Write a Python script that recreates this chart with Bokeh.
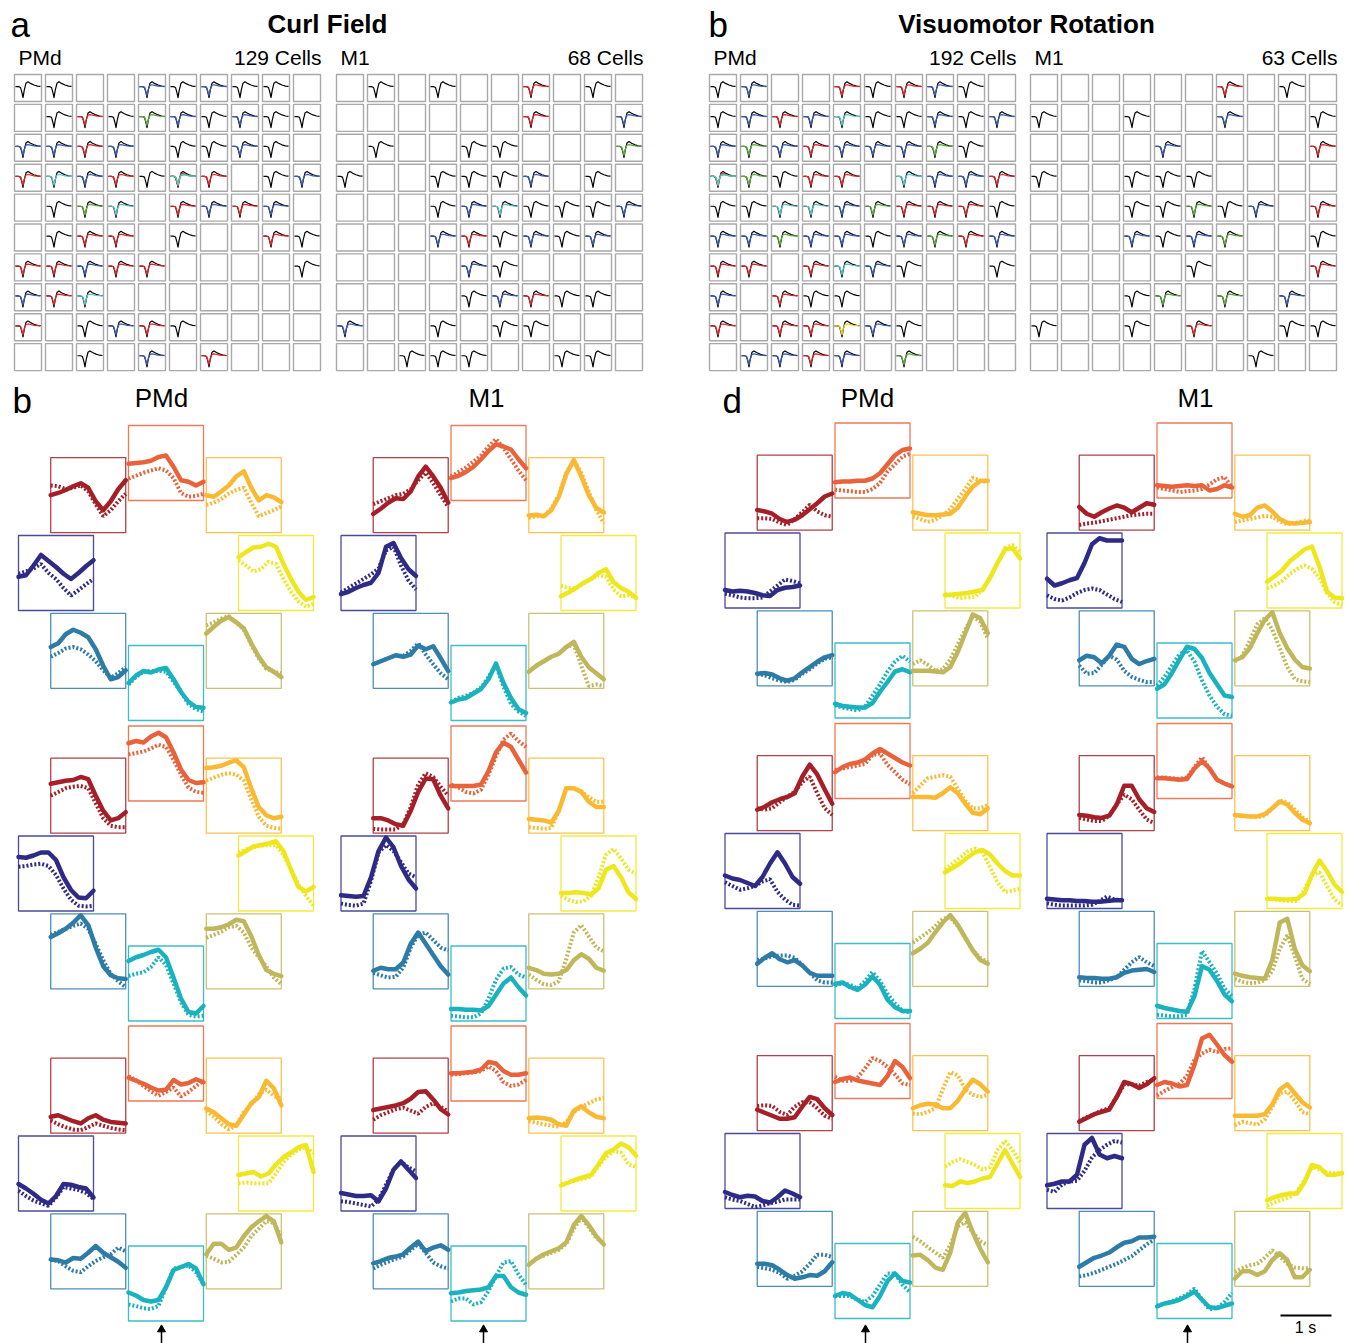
import math
from bokeh.plotting import figure
from bokeh.models import Range1d
from bokeh.core.properties import value
from bokeh.embed import file_html
from bokeh.resources import INLINE

# ---------------- DATA ----------------
# Top grids: one string per row of a 10x10 electrode map.
# '.' empty, 'k' black only, b/r/g/c/y colored overlay on black, 'm' several colors
curl_pmd_units = ["kk..bkbkk.", ".krkgbkbkk", "bbrb.kkbk.", "rcbrkmr.kb", ".kgc.rbrb.",
                  ".krr.k..rk", "rrbrr....k", "brc.......", "r.kbrk....", "..k.b.r..."]
curl_m1_units = [".k.k..r.k.", "......r..b", ".k..kk...g", "k..kkkb.k.", "...kbckkkb",
                 "...brkbkb.", "....bk....", "....kbrkk.", "b..k.kk...", "..kkk..kk."]
vr_pmd_units = ["kb..rkrbk.", "kbrbckkbkb", "bgbrbbbgk.", "mgkrr.cbbr", "kkccbgrrrk",
                "bbgbbkbgrb", "rr.rcbk..k", "b.rkk.....", "r.rrybk...", ".bbrb.g..."]
vr_m1_units = ["......r.k.", "k..k..b..k", "....b....r", "k..kkk....", "...kkgkb.r",
               "...bkbg..k", ".....k...r", "...kg.g.b.", "k..k.r..kk", ".......k.."]
cells_count = ["129 Cells", "68 Cells", "192 Cells", "63 Cells"]
area_names = ["PMd", "M1", "PMd", "M1"]

# mean spike waveform templates (fraction of cell height) at fractional time points
spike_t = [0.0, 0.12, 0.2, 0.26, 0.3, 0.35, 0.42, 0.5, 0.6, 0.74, 0.88, 1.0]
spike_black = [0.55, 0.55, 0.52, 0.32, 0.14, 0.42, 0.68, 0.73, 0.67, 0.61, 0.57, 0.56]
spike_var_a = [0.55, 0.55, 0.53, 0.36, 0.22, 0.44, 0.6, 0.62, 0.6, 0.57, 0.56, 0.55]
spike_var_b = [0.56, 0.56, 0.54, 0.4, 0.3, 0.46, 0.57, 0.6, 0.6, 0.58, 0.56, 0.56]
spike_var_c = [0.55, 0.55, 0.5, 0.3, 0.2, 0.4, 0.64, 0.66, 0.62, 0.58, 0.56, 0.55]
trace_colors = {"b": "#3A5CB5", "r": "#E5232B", "g": "#5CAA3C", "c": "#55C6CC", "y": "#E6D21C"}

# Rosettes: firing rate (fraction of box height) at 11 equal time steps.
# Direction order: 0, 45, 90, 135, 180, 225, 270, 315 degrees
t_steps = [0.0, 0.1, 0.2, 0.3, 0.4, 0.5, 0.6, 0.7, 0.8, 0.9, 1.0]
direction_colors = ["#EFE71E", "#F9B932", "#E8633B", "#A51F28", "#2E2B87", "#2D7BA7", "#1BB2BF", "#C0B75C"]

cf_pmd_1_solid = [
    [0.71, 0.78, 0.84, 0.85, 0.89, 0.85, 0.62, 0.42, 0.25, 0.14, 0.18],
    [0.5, 0.48, 0.55, 0.63, 0.75, 0.82, 0.6, 0.43, 0.5, 0.47, 0.41],
    [0.49, 0.5, 0.51, 0.53, 0.58, 0.6, 0.45, 0.27, 0.25, 0.2, 0.25],
    [0.5, 0.53, 0.57, 0.62, 0.66, 0.6, 0.42, 0.3, 0.42, 0.58, 0.7],
    [0.45, 0.47, 0.6, 0.74, 0.66, 0.58, 0.49, 0.42, 0.5, 0.59, 0.67],
    [0.55, 0.6, 0.72, 0.78, 0.74, 0.68, 0.52, 0.3, 0.12, 0.15, 0.24],
    [0.5, 0.6, 0.66, 0.64, 0.68, 0.7, 0.55, 0.38, 0.25, 0.18, 0.17],
    [0.73, 0.82, 0.9, 0.95, 0.88, 0.8, 0.6, 0.42, 0.28, 0.22, 0.15]]
cf_pmd_1_dotted = [
    [0.67, 0.6, 0.52, 0.55, 0.65, 0.62, 0.42, 0.25, 0.12, 0.05, 0.09],
    [0.37, 0.4, 0.45, 0.52, 0.57, 0.6, 0.4, 0.22, 0.26, 0.3, 0.35],
    [0.29, 0.33, 0.37, 0.4, 0.43, 0.4, 0.3, 0.1, 0.05, 0.06, 0.09],
    [0.63, 0.62, 0.58, 0.6, 0.63, 0.55, 0.38, 0.22, 0.3, 0.42, 0.52],
    [0.49, 0.52, 0.56, 0.62, 0.5, 0.42, 0.3, 0.2, 0.27, 0.35, 0.42],
    [0.42, 0.47, 0.53, 0.55, 0.52, 0.45, 0.36, 0.24, 0.14, 0.2, 0.28],
    [0.48, 0.58, 0.65, 0.66, 0.66, 0.65, 0.52, 0.38, 0.22, 0.15, 0.12],
    [0.84, 0.88, 0.93, 0.96, 0.88, 0.78, 0.58, 0.4, 0.26, 0.22, 0.2]]
cf_m1_1_solid = [
    [0.19, 0.24, 0.3, 0.37, 0.42, 0.5, 0.55, 0.38, 0.3, 0.25, 0.17],
    [0.23, 0.24, 0.22, 0.3, 0.48, 0.78, 0.97, 0.75, 0.5, 0.33, 0.27],
    [0.3, 0.33, 0.38, 0.45, 0.55, 0.66, 0.75, 0.72, 0.68, 0.55, 0.43],
    [0.25, 0.32, 0.4, 0.46, 0.45, 0.55, 0.75, 0.88, 0.75, 0.6, 0.4],
    [0.22, 0.25, 0.3, 0.34, 0.37, 0.5, 0.85, 0.9, 0.7, 0.55, 0.46],
    [0.32, 0.36, 0.4, 0.44, 0.42, 0.45, 0.57, 0.52, 0.56, 0.4, 0.23],
    [0.24, 0.28, 0.3, 0.36, 0.42, 0.55, 0.76, 0.5, 0.3, 0.15, 0.1],
    [0.22, 0.3, 0.36, 0.42, 0.46, 0.55, 0.62, 0.42, 0.28, 0.2, 0.12]]
cf_m1_1_dotted = [
    [0.33, 0.3, 0.3, 0.36, 0.42, 0.47, 0.45, 0.28, 0.19, 0.2, 0.18],
    [0.2, 0.22, 0.22, 0.32, 0.5, 0.8, 0.96, 0.8, 0.55, 0.3, 0.13],
    [0.32, 0.38, 0.44, 0.52, 0.6, 0.72, 0.82, 0.7, 0.55, 0.4, 0.27],
    [0.38, 0.42, 0.46, 0.5, 0.52, 0.58, 0.7, 0.8, 0.66, 0.5, 0.34],
    [0.24, 0.3, 0.36, 0.42, 0.48, 0.56, 0.8, 0.85, 0.6, 0.4, 0.28],
    [0.32, 0.36, 0.4, 0.44, 0.43, 0.5, 0.6, 0.45, 0.32, 0.2, 0.12],
    [0.25, 0.3, 0.33, 0.37, 0.44, 0.58, 0.74, 0.45, 0.22, 0.12, 0.06],
    [0.22, 0.3, 0.36, 0.42, 0.46, 0.55, 0.58, 0.3, 0.03, 0.05, 0.03]]
cf_pmd_2_solid = [
    [0.74, 0.8, 0.86, 0.88, 0.9, 0.93, 0.8, 0.55, 0.32, 0.26, 0.32],
    [0.87, 0.88, 0.9, 0.94, 0.97, 0.88, 0.6, 0.35, 0.24, 0.2, 0.22],
    [0.77, 0.8, 0.78, 0.86, 0.91, 0.85, 0.65, 0.42, 0.28, 0.24, 0.25],
    [0.66, 0.68, 0.7, 0.71, 0.75, 0.72, 0.5, 0.3, 0.17, 0.2, 0.28],
    [0.72, 0.71, 0.74, 0.78, 0.78, 0.68, 0.45, 0.28, 0.18, 0.17, 0.27],
    [0.69, 0.74, 0.8, 0.88, 0.98, 0.85, 0.55, 0.3, 0.18, 0.14, 0.13],
    [0.8, 0.85, 0.88, 0.92, 0.95, 0.85, 0.58, 0.3, 0.12, 0.1, 0.2],
    [0.8, 0.8, 0.82, 0.86, 0.92, 0.9, 0.7, 0.45, 0.25, 0.2, 0.17]]
cf_pmd_2_dotted = [
    [0.78, 0.82, 0.85, 0.87, 0.88, 0.88, 0.75, 0.55, 0.35, 0.2, 0.07],
    [0.7, 0.74, 0.78, 0.8, 0.78, 0.7, 0.45, 0.22, 0.1, 0.07, 0.06],
    [0.62, 0.64, 0.66, 0.7, 0.75, 0.72, 0.55, 0.35, 0.18, 0.12, 0.11],
    [0.5, 0.55, 0.6, 0.62, 0.63, 0.6, 0.4, 0.2, 0.1, 0.08, 0.08],
    [0.59, 0.6, 0.62, 0.63, 0.6, 0.48, 0.3, 0.15, 0.07, 0.06, 0.07],
    [0.72, 0.76, 0.8, 0.84, 0.87, 0.8, 0.6, 0.38, 0.2, 0.1, 0.02],
    [0.6, 0.63, 0.65, 0.72, 0.85, 0.75, 0.5, 0.25, 0.08, 0.06, 0.07],
    [0.68, 0.72, 0.76, 0.82, 0.84, 0.75, 0.55, 0.42, 0.3, 0.15, 0.06]]
cf_m1_2_solid = [
    [0.24, 0.24, 0.25, 0.24, 0.22, 0.3, 0.55, 0.6, 0.45, 0.25, 0.16],
    [0.19, 0.18, 0.17, 0.14, 0.3, 0.6, 0.6, 0.55, 0.42, 0.35, 0.35],
    [0.2, 0.2, 0.2, 0.2, 0.22, 0.4, 0.65, 0.78, 0.72, 0.55, 0.38],
    [0.2, 0.2, 0.17, 0.12, 0.1, 0.3, 0.55, 0.73, 0.72, 0.5, 0.33],
    [0.21, 0.2, 0.19, 0.2, 0.45, 0.8, 0.98, 0.85, 0.6, 0.42, 0.3],
    [0.24, 0.28, 0.26, 0.26, 0.35, 0.6, 0.75, 0.6, 0.45, 0.3, 0.19],
    [0.16, 0.16, 0.15, 0.15, 0.14, 0.2, 0.35, 0.5, 0.58, 0.45, 0.34],
    [0.28, 0.25, 0.2, 0.19, 0.2, 0.25, 0.38, 0.46, 0.4, 0.28, 0.24]]
cf_m1_2_dotted = [
    [0.2, 0.15, 0.12, 0.13, 0.2, 0.45, 0.75, 0.83, 0.7, 0.55, 0.5],
    [0.08, 0.07, 0.06, 0.07, 0.3, 0.6, 0.6, 0.56, 0.48, 0.42, 0.42],
    [0.22, 0.18, 0.12, 0.1, 0.15, 0.35, 0.6, 0.82, 0.9, 0.8, 0.72],
    [0.06, 0.05, 0.05, 0.05, 0.12, 0.35, 0.65, 0.8, 0.75, 0.62, 0.5],
    [0.1, 0.08, 0.07, 0.1, 0.4, 0.78, 0.88, 0.8, 0.65, 0.5, 0.45],
    [0.21, 0.18, 0.15, 0.16, 0.28, 0.55, 0.72, 0.75, 0.65, 0.55, 0.51],
    [0.07, 0.06, 0.05, 0.05, 0.1, 0.3, 0.55, 0.7, 0.72, 0.62, 0.58],
    [0.19, 0.12, 0.06, 0.05, 0.1, 0.4, 0.75, 0.85, 0.7, 0.55, 0.5]]
cf_pmd_3_solid = [
    [0.48, 0.5, 0.52, 0.46, 0.5, 0.62, 0.72, 0.78, 0.85, 0.88, 0.52],
    [0.33, 0.28, 0.2, 0.12, 0.1, 0.25, 0.4, 0.48, 0.7, 0.6, 0.37],
    [0.31, 0.27, 0.23, 0.18, 0.14, 0.15, 0.28, 0.22, 0.24, 0.29, 0.25],
    [0.22, 0.24, 0.2, 0.16, 0.13, 0.2, 0.24, 0.18, 0.15, 0.14, 0.13],
    [0.36, 0.3, 0.23, 0.15, 0.1, 0.2, 0.36, 0.35, 0.32, 0.3, 0.18],
    [0.39, 0.38, 0.35, 0.41, 0.4, 0.48, 0.57, 0.48, 0.42, 0.36, 0.28],
    [0.38, 0.34, 0.28, 0.26, 0.28, 0.45, 0.68, 0.72, 0.76, 0.7, 0.49],
    [0.46, 0.6, 0.6, 0.52, 0.55, 0.7, 0.82, 0.9, 0.97, 0.9, 0.62]]
cf_pmd_3_dotted = [
    [0.37, 0.38, 0.37, 0.37, 0.37, 0.5, 0.65, 0.75, 0.82, 0.85, 0.77],
    [0.3, 0.22, 0.12, 0.05, 0.1, 0.28, 0.38, 0.52, 0.58, 0.5, 0.46],
    [0.33, 0.28, 0.2, 0.13, 0.07, 0.12, 0.18, 0.06, 0.12, 0.2, 0.27],
    [0.17, 0.12, 0.08, 0.05, 0.04, 0.08, 0.13, 0.1, 0.07, 0.05, 0.04],
    [0.27, 0.2, 0.14, 0.1, 0.07, 0.18, 0.32, 0.3, 0.28, 0.24, 0.16],
    [0.39, 0.37, 0.3, 0.24, 0.22, 0.3, 0.37, 0.42, 0.46, 0.55, 0.5],
    [0.22, 0.2, 0.17, 0.16, 0.2, 0.45, 0.7, 0.72, 0.74, 0.65, 0.49],
    [0.44, 0.4, 0.35, 0.36, 0.45, 0.55, 0.7, 0.8, 0.9, 0.88, 0.69]]
cf_m1_3_solid = [
    [0.34, 0.38, 0.42, 0.45, 0.48, 0.62, 0.77, 0.82, 0.9, 0.85, 0.74],
    [0.2, 0.21, 0.2, 0.18, 0.12, 0.1, 0.3, 0.36, 0.28, 0.22, 0.2],
    [0.37, 0.37, 0.38, 0.39, 0.42, 0.52, 0.5, 0.4, 0.35, 0.35, 0.37],
    [0.31, 0.33, 0.35, 0.37, 0.4, 0.46, 0.55, 0.56, 0.45, 0.32, 0.25],
    [0.24, 0.22, 0.2, 0.2, 0.21, 0.13, 0.3, 0.55, 0.66, 0.55, 0.44],
    [0.34, 0.37, 0.41, 0.43, 0.46, 0.55, 0.63, 0.5, 0.55, 0.58, 0.52],
    [0.37, 0.38, 0.4, 0.41, 0.42, 0.45, 0.6, 0.6, 0.45, 0.38, 0.35],
    [0.32, 0.4, 0.46, 0.5, 0.54, 0.62, 0.85, 0.97, 0.85, 0.7, 0.59]]
cf_m1_3_dotted = [
    [0.36, 0.38, 0.41, 0.43, 0.46, 0.6, 0.72, 0.8, 0.78, 0.62, 0.59],
    [0.16, 0.14, 0.12, 0.1, 0.09, 0.15, 0.28, 0.35, 0.4, 0.45, 0.47],
    [0.35, 0.36, 0.37, 0.38, 0.4, 0.46, 0.4, 0.25, 0.2, 0.22, 0.28],
    [0.18, 0.24, 0.28, 0.32, 0.34, 0.3, 0.26, 0.35, 0.4, 0.35, 0.29],
    [0.13, 0.12, 0.1, 0.08, 0.06, 0.15, 0.35, 0.55, 0.66, 0.58, 0.53],
    [0.27, 0.32, 0.36, 0.4, 0.43, 0.52, 0.6, 0.48, 0.35, 0.3, 0.27],
    [0.26, 0.3, 0.3, 0.22, 0.25, 0.4, 0.6, 0.78, 0.8, 0.62, 0.48],
    [0.33, 0.4, 0.44, 0.48, 0.52, 0.6, 0.8, 0.95, 0.82, 0.68, 0.6]]
vr_pmd_1_solid = [
    [0.17, 0.18, 0.19, 0.2, 0.22, 0.24, 0.4, 0.6, 0.78, 0.8, 0.66],
    [0.24, 0.22, 0.2, 0.2, 0.21, 0.22, 0.3, 0.45, 0.58, 0.66, 0.66],
    [0.21, 0.22, 0.22, 0.23, 0.23, 0.26, 0.33, 0.45, 0.57, 0.64, 0.66],
    [0.27, 0.25, 0.22, 0.15, 0.11, 0.14, 0.2, 0.28, 0.36, 0.45, 0.49],
    [0.24, 0.22, 0.23, 0.22, 0.2, 0.17, 0.16, 0.24, 0.27, 0.28, 0.3],
    [0.16, 0.17, 0.15, 0.1, 0.07, 0.1, 0.18, 0.25, 0.32, 0.38, 0.41],
    [0.19, 0.16, 0.15, 0.14, 0.14, 0.2, 0.35, 0.48, 0.62, 0.65, 0.61],
    [0.2, 0.2, 0.2, 0.19, 0.18, 0.25, 0.45, 0.7, 0.95, 0.9, 0.7]]
vr_pmd_1_dotted = [
    [0.19, 0.16, 0.13, 0.14, 0.15, 0.25, 0.42, 0.6, 0.8, 0.84, 0.75],
    [0.18, 0.15, 0.11, 0.14, 0.2, 0.28, 0.42, 0.55, 0.7, 0.66, 0.64],
    [0.11, 0.1, 0.09, 0.08, 0.08, 0.12, 0.2, 0.35, 0.45, 0.55, 0.59],
    [0.16, 0.16, 0.15, 0.1, 0.07, 0.15, 0.24, 0.34, 0.25, 0.2, 0.18],
    [0.19, 0.17, 0.14, 0.13, 0.13, 0.14, 0.22, 0.3, 0.38, 0.36, 0.33],
    [0.16, 0.14, 0.1, 0.07, 0.05, 0.08, 0.16, 0.22, 0.3, 0.36, 0.38],
    [0.17, 0.14, 0.12, 0.1, 0.15, 0.3, 0.45, 0.62, 0.75, 0.83, 0.75],
    [0.29, 0.34, 0.28, 0.2, 0.22, 0.35, 0.55, 0.75, 0.93, 0.85, 0.63]]
vr_m1_1_solid = [
    [0.35, 0.42, 0.5, 0.62, 0.7, 0.78, 0.82, 0.55, 0.22, 0.14, 0.13],
    [0.22, 0.18, 0.2, 0.3, 0.33, 0.25, 0.15, 0.1, 0.09, 0.1, 0.11],
    [0.17, 0.16, 0.15, 0.16, 0.17, 0.16, 0.17, 0.1, 0.12, 0.17, 0.14],
    [0.31, 0.22, 0.18, 0.24, 0.29, 0.33, 0.3, 0.24, 0.3, 0.36, 0.34],
    [0.39, 0.3, 0.33, 0.37, 0.4, 0.6, 0.85, 0.93, 0.9, 0.9, 0.9],
    [0.34, 0.4, 0.38, 0.3, 0.4, 0.55, 0.52, 0.36, 0.29, 0.33, 0.36],
    [0.39, 0.45, 0.6, 0.78, 0.95, 0.92, 0.8, 0.6, 0.45, 0.3, 0.28],
    [0.34, 0.38, 0.5, 0.7, 0.88, 0.98, 0.7, 0.5, 0.35, 0.25, 0.23]]
vr_m1_1_dotted = [
    [0.26, 0.3, 0.36, 0.45, 0.52, 0.57, 0.52, 0.4, 0.2, 0.08, 0.04],
    [0.11, 0.13, 0.15, 0.17, 0.19, 0.18, 0.12, 0.08, 0.09, 0.12, 0.13],
    [0.14, 0.12, 0.1, 0.08, 0.09, 0.1, 0.12, 0.18, 0.25, 0.28, 0.14],
    [0.07, 0.09, 0.1, 0.12, 0.14, 0.16, 0.18, 0.2, 0.21, 0.22, 0.22],
    [0.17, 0.12, 0.1, 0.14, 0.2, 0.24, 0.26, 0.24, 0.18, 0.12, 0.08],
    [0.27, 0.16, 0.17, 0.28, 0.4, 0.35, 0.2, 0.12, 0.08, 0.05, 0.05],
    [0.43, 0.55, 0.7, 0.85, 0.9, 0.75, 0.5, 0.3, 0.15, 0.05, 0.03],
    [0.32, 0.4, 0.6, 0.82, 0.9, 0.75, 0.5, 0.25, 0.09, 0.06, 0.05]]
vr_pmd_2_solid = [
    [0.48, 0.54, 0.6, 0.68, 0.75, 0.78, 0.72, 0.6, 0.5, 0.44, 0.44],
    [0.45, 0.45, 0.45, 0.44, 0.5, 0.58, 0.5, 0.36, 0.24, 0.22, 0.3],
    [0.35, 0.42, 0.46, 0.48, 0.52, 0.6, 0.66, 0.6, 0.54, 0.48, 0.44],
    [0.28, 0.32, 0.38, 0.42, 0.45, 0.5, 0.72, 0.88, 0.75, 0.55, 0.36],
    [0.44, 0.4, 0.38, 0.34, 0.3, 0.42, 0.6, 0.75, 0.6, 0.42, 0.33],
    [0.3, 0.38, 0.44, 0.36, 0.32, 0.35, 0.28, 0.18, 0.14, 0.14, 0.14],
    [0.46, 0.48, 0.42, 0.38, 0.45, 0.56, 0.45, 0.25, 0.15, 0.1, 0.1],
    [0.44, 0.5, 0.58, 0.72, 0.85, 0.95, 0.82, 0.65, 0.48, 0.35, 0.3]]
vr_pmd_2_dotted = [
    [0.52, 0.6, 0.68, 0.76, 0.8, 0.75, 0.55, 0.35, 0.22, 0.24, 0.26],
    [0.5, 0.6, 0.7, 0.72, 0.74, 0.72, 0.56, 0.4, 0.3, 0.3, 0.34],
    [0.38, 0.4, 0.42, 0.44, 0.46, 0.58, 0.6, 0.45, 0.35, 0.25, 0.19],
    [0.3, 0.28, 0.3, 0.38, 0.45, 0.52, 0.65, 0.72, 0.5, 0.3, 0.21],
    [0.35, 0.3, 0.25, 0.27, 0.3, 0.36, 0.39, 0.22, 0.12, 0.05, 0.04],
    [0.35, 0.37, 0.4, 0.41, 0.41, 0.38, 0.28, 0.18, 0.08, 0.05, 0.05],
    [0.44, 0.47, 0.45, 0.4, 0.5, 0.62, 0.5, 0.33, 0.2, 0.1, 0.08],
    [0.58, 0.65, 0.72, 0.8, 0.9, 0.92, 0.8, 0.64, 0.48, 0.38, 0.32]]
vr_m1_2_solid = [
    [0.13, 0.13, 0.12, 0.12, 0.13, 0.2, 0.45, 0.64, 0.5, 0.32, 0.22],
    [0.21, 0.2, 0.19, 0.19, 0.22, 0.3, 0.39, 0.35, 0.24, 0.15, 0.1],
    [0.27, 0.27, 0.26, 0.25, 0.26, 0.4, 0.5, 0.4, 0.25, 0.2, 0.16],
    [0.21, 0.2, 0.18, 0.17, 0.2, 0.35, 0.6, 0.6, 0.42, 0.3, 0.25],
    [0.13, 0.12, 0.11, 0.11, 0.1, 0.1, 0.09, 0.09, 0.1, 0.11, 0.11],
    [0.12, 0.11, 0.11, 0.1, 0.1, 0.12, 0.18, 0.21, 0.22, 0.23, 0.19],
    [0.17, 0.14, 0.12, 0.1, 0.09, 0.3, 0.7, 0.65, 0.5, 0.32, 0.23],
    [0.17, 0.14, 0.12, 0.11, 0.1, 0.35, 0.85, 0.9, 0.5, 0.28, 0.2]]
vr_m1_2_dotted = [
    [0.13, 0.12, 0.11, 0.1, 0.1, 0.25, 0.45, 0.48, 0.3, 0.12, 0.04],
    [0.2, 0.2, 0.19, 0.18, 0.2, 0.3, 0.4, 0.38, 0.28, 0.18, 0.12],
    [0.28, 0.28, 0.27, 0.26, 0.28, 0.42, 0.55, 0.4, 0.25, 0.2, 0.16],
    [0.17, 0.15, 0.13, 0.13, 0.2, 0.35, 0.48, 0.42, 0.28, 0.15, 0.1],
    [0.07, 0.05, 0.04, 0.04, 0.04, 0.04, 0.05, 0.1, 0.16, 0.12, 0.11],
    [0.08, 0.07, 0.05, 0.05, 0.08, 0.12, 0.22, 0.32, 0.39, 0.32, 0.27],
    [0.05, 0.04, 0.03, 0.03, 0.05, 0.4, 0.9, 0.75, 0.6, 0.4, 0.3],
    [0.1, 0.06, 0.04, 0.05, 0.08, 0.2, 0.5, 0.68, 0.4, 0.1, 0.03]]
vr_pmd_3_solid = [
    [0.31, 0.3, 0.36, 0.34, 0.36, 0.4, 0.42, 0.6, 0.78, 0.6, 0.42],
    [0.3, 0.34, 0.36, 0.35, 0.3, 0.3, 0.4, 0.55, 0.68, 0.62, 0.52],
    [0.22, 0.26, 0.28, 0.24, 0.22, 0.2, 0.18, 0.3, 0.5, 0.42, 0.27],
    [0.28, 0.24, 0.2, 0.16, 0.16, 0.18, 0.32, 0.45, 0.42, 0.3, 0.21],
    [0.22, 0.18, 0.15, 0.17, 0.16, 0.1, 0.08, 0.15, 0.24, 0.2, 0.15],
    [0.3, 0.3, 0.28, 0.22, 0.15, 0.1, 0.12, 0.15, 0.14, 0.2, 0.32],
    [0.3, 0.34, 0.32, 0.25, 0.18, 0.15, 0.3, 0.5, 0.6, 0.5, 0.48],
    [0.41, 0.42, 0.35, 0.25, 0.22, 0.45, 0.85, 0.98, 0.72, 0.5, 0.32]]
vr_pmd_3_dotted = [
    [0.56, 0.62, 0.66, 0.62, 0.58, 0.52, 0.55, 0.78, 0.9, 0.78, 0.62],
    [0.23, 0.22, 0.25, 0.3, 0.55, 0.78, 0.74, 0.55, 0.48, 0.45, 0.48],
    [0.29, 0.24, 0.23, 0.28, 0.4, 0.54, 0.5, 0.42, 0.32, 0.2, 0.18],
    [0.33, 0.34, 0.33, 0.25, 0.21, 0.32, 0.38, 0.38, 0.3, 0.2, 0.16],
    [0.15, 0.12, 0.1, 0.06, 0.02, 0.04, 0.07, 0.09, 0.12, 0.12, 0.12],
    [0.26, 0.24, 0.22, 0.18, 0.1, 0.14, 0.2, 0.3, 0.42, 0.42, 0.39],
    [0.3, 0.3, 0.3, 0.25, 0.22, 0.3, 0.45, 0.6, 0.6, 0.45, 0.35],
    [0.66, 0.6, 0.52, 0.45, 0.38, 0.55, 0.8, 0.85, 0.72, 0.6, 0.55]]
vr_m1_3_solid = [
    [0.11, 0.15, 0.18, 0.2, 0.2, 0.35, 0.58, 0.55, 0.45, 0.45, 0.47],
    [0.2, 0.2, 0.2, 0.2, 0.22, 0.35, 0.55, 0.62, 0.5, 0.38, 0.31],
    [0.18, 0.22, 0.2, 0.16, 0.18, 0.45, 0.8, 0.85, 0.72, 0.58, 0.49],
    [0.12, 0.17, 0.22, 0.25, 0.28, 0.45, 0.65, 0.62, 0.57, 0.62, 0.7],
    [0.31, 0.33, 0.36, 0.36, 0.45, 0.85, 0.94, 0.72, 0.67, 0.7, 0.67],
    [0.26, 0.32, 0.38, 0.41, 0.45, 0.52, 0.58, 0.6, 0.65, 0.65, 0.66],
    [0.16, 0.2, 0.22, 0.25, 0.3, 0.36, 0.25, 0.15, 0.14, 0.17, 0.2],
    [0.1, 0.2, 0.2, 0.15, 0.2, 0.35, 0.44, 0.35, 0.12, 0.12, 0.22]]
vr_m1_3_dotted = [
    [0.04, 0.08, 0.12, 0.15, 0.22, 0.38, 0.55, 0.52, 0.48, 0.47, 0.47],
    [0.07, 0.12, 0.1, 0.08, 0.15, 0.32, 0.5, 0.52, 0.4, 0.25, 0.22],
    [0.04, 0.1, 0.15, 0.2, 0.3, 0.52, 0.6, 0.65, 0.62, 0.66, 0.67],
    [0.13, 0.18, 0.22, 0.27, 0.3, 0.45, 0.62, 0.62, 0.6, 0.65, 0.68],
    [0.25, 0.22, 0.32, 0.36, 0.37, 0.5, 0.68, 0.78, 0.85, 0.9, 0.88],
    [0.13, 0.15, 0.18, 0.22, 0.26, 0.3, 0.35, 0.4, 0.48, 0.56, 0.62],
    [0.17, 0.2, 0.23, 0.27, 0.32, 0.4, 0.25, 0.12, 0.14, 0.22, 0.34],
    [0.19, 0.24, 0.28, 0.3, 0.38, 0.48, 0.4, 0.3, 0.25, 0.24, 0.24]]

# ---------------- LAYOUT ----------------
W, H = 1349, 1343
FONT = value("Liberation Sans")

p = figure(width=W, height=H, x_range=Range1d(0, W), y_range=Range1d(H, 0),
           output_backend="svg", toolbar_location=None, min_border=0,
           x_axis_location=None, y_axis_location=None)
p.grid.visible = False
p.outline_line_color = None
p.background_fill_color = "white"
p.border_fill_color = "white"

# --- top electrode grids ---
grid_lefts = [14, 336, 709, 1030]
grid_top = 74
pitch_x, pitch_y, cell = 31.0, 29.9, 27.0
all_units = [curl_pmd_units, curl_m1_units, vr_pmd_units, vr_m1_units]

bx, by = [], []
wxs, wys, wcols = [], [], []
for gi, units in enumerate(all_units):
    for r, row in enumerate(units):
        for c, ch in enumerate(row):
            cx = grid_lefts[gi] + c * pitch_x + cell / 2
            cy = grid_top + r * pitch_y + cell / 2
            bx.append(cx)
            by.append(cy)
            if ch == ".":
                continue
            x0 = cx - cell / 2 + 1
            traces = [(spike_black, "black")]
            if ch == "m":
                traces += [(spike_var_c, trace_colors["r"]), (spike_var_b, trace_colors["g"]),
                           (spike_var_a, trace_colors["c"])]
            elif ch != "k":
                traces += [(spike_var_a, trace_colors[ch])]
            for vals, col in traces:
                wxs.append([x0 + t * (cell - 2) for t in spike_t])
                wys.append([cy + cell / 2 - v * cell for v in vals])
                wcols.append(col)

p.rect(x=bx, y=by, width=cell, height=cell, fill_color="white",
       line_color="#A9A9A9", line_width=1.4)
p.multi_line(xs=wxs, ys=wys, line_color=wcols, line_width=1.2, line_join="round")

# --- rosettes ---
rosette_cx = [165.5, 488.0, 872.0, 1194.0]
rosette_cy = [[572.5, 873.0, 1173.0], [572.5, 873.0, 1173.0],
              [570.0, 870.5, 1170.5], [570.0, 870.5, 1170.5]]
rosette_data = [
    [(cf_pmd_1_solid, cf_pmd_1_dotted), (cf_pmd_2_solid, cf_pmd_2_dotted), (cf_pmd_3_solid, cf_pmd_3_dotted)],
    [(cf_m1_1_solid, cf_m1_1_dotted), (cf_m1_2_solid, cf_m1_2_dotted), (cf_m1_3_solid, cf_m1_3_dotted)],
    [(vr_pmd_1_solid, vr_pmd_1_dotted), (vr_pmd_2_solid, vr_pmd_2_dotted), (vr_pmd_3_solid, vr_pmd_3_dotted)],
    [(vr_m1_1_solid, vr_m1_1_dotted), (vr_m1_2_solid, vr_m1_2_dotted), (vr_m1_3_solid, vr_m1_3_dotted)],
]
radius, box = 110.0, 75.0

rbx, rby, rcol = [], [], []
sxs, sys_, scol = [], [], []
dxs, dys, dcol = [], [], []
for ci in range(4):
    for ri in range(3):
        cx0, cy0 = rosette_cx[ci], rosette_cy[ci][ri]
        solid, dotted = rosette_data[ci][ri]
        for k in range(8):
            ang = math.radians(45 * k)
            bcx = cx0 + radius * math.cos(ang)
            bcy = cy0 - radius * math.sin(ang)
            rbx.append(bcx)
            rby.append(bcy)
            rcol.append(direction_colors[k])
            xs = [bcx - box / 2 + t * box for t in t_steps]
            sxs.append(xs)
            sys_.append([bcy + box / 2 - v * box for v in solid[k]])
            scol.append(direction_colors[k])
            dxs.append(xs)
            dys.append([bcy + box / 2 - v * box for v in dotted[k]])
            dcol.append(direction_colors[k])

p.rect(x=rbx, y=rby, width=box, height=box, fill_color=None, line_color=rcol,
       line_width=1.3, line_alpha=0.85)
p.multi_line(xs=dxs, ys=dys, line_color=dcol, line_width=4, line_dash="2 2")
p.multi_line(xs=sxs, ys=sys_, line_color=scol, line_width=4.5, line_join="round", line_cap="round")

# --- texts ---
p.text(x=[10, 708, 12, 722], y=[24, 24, 400, 400], text=["a", "b", "b", "d"],
       text_font=FONT, text_font_size=value("35px"), text_color="black",
       text_align="left", text_baseline="alphabetic")
p.text(x=[327, 1026], y=[23, 23], text=["Curl Field", "Visuomotor Rotation"],
       text_font=FONT, text_font_size=value("26px"), text_font_style="bold",
       text_color="black", text_align="center", text_baseline="alphabetic")
p.text(x=[g + 4 for g in grid_lefts], y=[57] * 4, text=area_names,
       text_font=FONT, text_font_size=value("21px"), text_color="black",
       text_align="left", text_baseline="alphabetic")
p.text(x=[g + 10 * pitch_x - 3 for g in grid_lefts], y=[57] * 4, text=cells_count,
       text_font=FONT, text_font_size=value("21px"), text_color="black",
       text_align="right", text_baseline="alphabetic")
p.text(x=[161, 486, 867, 1195], y=[397] * 4, text=area_names,
       text_font=FONT, text_font_size=value("26px"), text_color="black",
       text_align="center", text_baseline="alphabetic")

# movement onset arrows
arrow_x = [161, 483, 865, 1187]
p.segment(x0=arrow_x, y0=[1343] * 4, x1=arrow_x, y1=[1330] * 4, line_color="black", line_width=1.5)
p.scatter(x=arrow_x, y=[1329] * 4, marker="triangle", size=8, fill_color="black", line_color="black")

# scale bar
p.segment(x0=[1280], y0=[1315], x1=[1331], y1=[1315], line_color="black", line_width=2.2)
p.text(x=[1305], y=[1327], text=["1 s"], text_font=FONT, text_font_size=value("16px"),
       text_color="black", text_align="center", text_baseline="alphabetic")

open("out.html", "w").write(file_html(p, INLINE))
